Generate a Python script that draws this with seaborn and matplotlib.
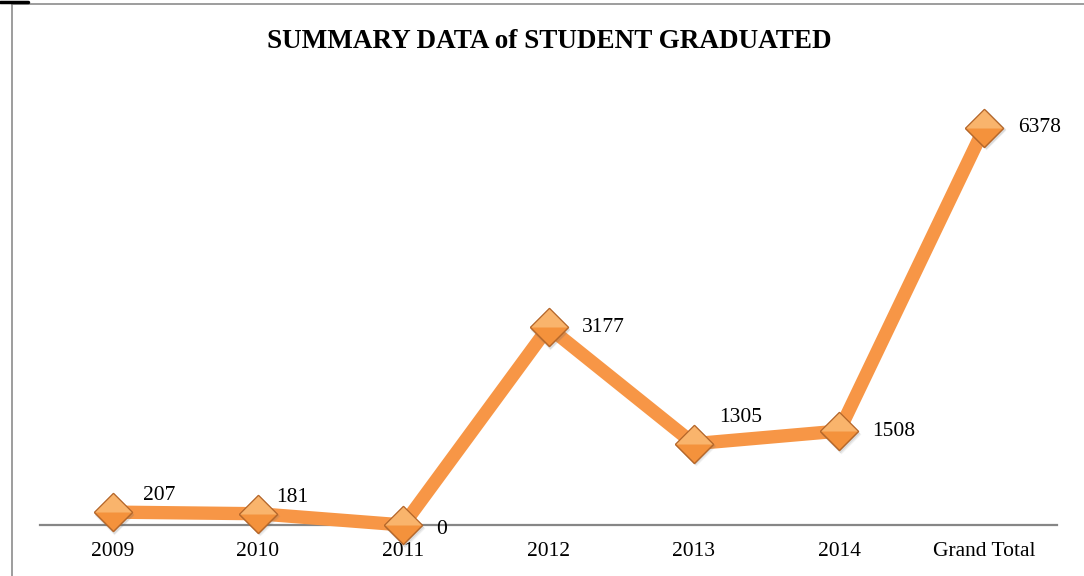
import matplotlib
matplotlib.use("Agg")
import matplotlib.pyplot as plt
from matplotlib.lines import Line2D
import seaborn as sns
import pandas as pd

# data
categories = ["2009", "2010", "2011", "2012", "2013", "2014", "Grand Total"]
graduated = [207, 181, 0, 3177, 1305, 1508, 6378]

# label offsets (pixels, from marker centre) - Excel placed them a bit unevenly
label_dx = [30, 18, 33, 33, 25, 33, 34]
label_dy = [17, 16, -5, 0, 26, 0, 0]

sns.set_theme(style="white")
plt.rcParams["font.family"] = ["Liberation Serif", "DejaVu Serif"]
plt.rcParams["text.color"] = "black"

fig = plt.figure(figsize=(10.84, 5.76), dpi=100)
ax = fig.add_axes([40 / 1084, 51 / 576, 1017 / 1084, 436 / 576])

df = pd.DataFrame({"cat": categories, "val": graduated})
orange = "#F79646"
sns.lineplot(data=df, x="cat", y="val", sort=False, color=orange,
             linewidth=9.6, ax=ax, zorder=2, clip_on=False)

xs = range(len(categories))
diamond = [(-1, 0), (0, 1), (1, 0), (0, -1), (-1, 0)]
top_half = [(-1, 0), (0, 1), (1, 0), (-1, 0)]
ms = 27.5
# soft shadow
for k, a in [(3, 0.10), (2, 0.15)]:
    ax.plot([x + 0.004 * k for x in xs], [v - 14 * k for v in graduated], ls="none",
            marker=diamond, ms=ms + 1, color="#666666", alpha=a, mew=0, zorder=3,
            clip_on=False)
ax.plot(xs, graduated, ls="none", marker=diamond, ms=ms, mfc="#F4923C",
        mec="#B5672A", mew=0.8, zorder=4, clip_on=False)
ax.plot(xs, graduated, ls="none", marker=top_half, ms=ms, mfc="#F9B46C",
        mec="none", mew=0, zorder=5, clip_on=False)
ax.plot(xs, graduated, ls="none", marker=diamond, ms=ms, mfc="none",
        mec="#B5672A", mew=0.8, zorder=6, clip_on=False)

for i, v in enumerate(graduated):
    ax.annotate(str(v), (i, v), xytext=(label_dx[i] * 0.72, label_dy[i] * 0.72),
                textcoords="offset points", ha="left", va="center",
                fontsize=15.5, color="black", zorder=7)

ax.set_xlim(-0.5, 6.5)
ax.set_ylim(0, 7000)
ax.set_xlabel("")
ax.set_ylabel("")
ax.set_yticks([])
for s in ["top", "right", "left"]:
    ax.spines[s].set_visible(False)
ax.spines["bottom"].set_color("#868686")
ax.spines["bottom"].set_linewidth(1.6)
ax.spines["bottom"].set_zorder(1)
ax.tick_params(axis="x", length=0, pad=12, labelsize=15.5, colors="black")

fig.text(549 / 1084, 1 - 42 / 576, "SUMMARY DATA of STUDENT GRADUATED",
         ha="center", va="center", fontsize=19.5, fontweight="bold", color="black")

# outer frame pieces seen at the top-left
fig.add_artist(Line2D([12 / 1084, 12 / 1084], [0, 1 - 4 / 576], color="#8C8C8C", lw=1.2))
fig.add_artist(Line2D([12 / 1084, 1], [1 - 4 / 576, 1 - 4 / 576], color="#8C8C8C", lw=1.2))
fig.add_artist(Line2D([0, 28 / 1084], [1 - 1.5 / 576, 1 - 1.5 / 576], color="black", lw=2.5))

fig.savefig("out.png", dpi=100)
plt.close(fig)
